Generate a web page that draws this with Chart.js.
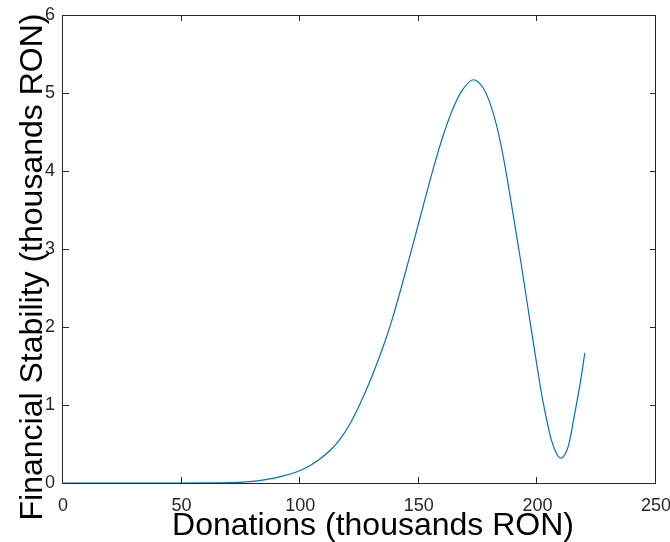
<!DOCTYPE html>
<html>
<head>
<meta charset="utf-8">
<script src="https://cdn.jsdelivr.net/npm/chart.js@4/dist/chart.umd.min.js"></script>
<style>
  html, body { margin: 0; padding: 0; background: #fff; }
  #wrap { width: 670px; height: 542px; position: relative; }
</style>
</head>
<body>
<div id="wrap"><canvas id="chart"></canvas></div>
<script>
(function() {
  'use strict';

  // ── Curve (thousands RON) ──
  var donations = [0, 50, 60, 70, 80, 90, 100, 104, 108, 113, 117, 121, 125, 130, 135, 139, 144, 148, 152, 156, 160, 164, 168, 173, 177, 180, 183, 186, 190, 193, 197, 200, 202, 205, 206, 208, 209, 210, 211, 212, 213, 214, 215, 218, 220];
  var stability = [0, 0, 0.001, 0.005, 0.022, 0.07, 0.16, 0.22, 0.30, 0.43, 0.57, 0.76, 1.00, 1.35, 1.75, 2.12, 2.66, 3.11, 3.57, 4.02, 4.43, 4.77, 5.02, 5.17, 5.07, 4.87, 4.56, 4.12, 3.40, 2.84, 2.05, 1.47, 1.10, 0.66, 0.54, 0.38, 0.335, 0.32, 0.338, 0.39, 0.47, 0.60, 0.77, 1.27, 1.67];

  var xTicks = [0, 50, 100, 150, 200, 250];
  var yTicks = [0, 1, 2, 3, 4, 5, 6];

  var xTitle = 'Donations (thousands RON)';
  var yTitle = 'Financial Stability (thousands RON)';

  var FONT = "'Liberation Sans', Arial, sans-serif";
  var AXIS = '#262626';

  var points = donations.map(function(d, i) { return { x: d, y: stability[i] }; });

  // no extra room for labels that stick out past the plot box
  function noOverflow(s) {
    s.paddingLeft = 0; s.paddingRight = 0;
    s.paddingTop = 0; s.paddingBottom = 0;
  }

  // ── MATLAB-style box, inward ticks and axis titles ──
  var matlabAxes = {
    id: 'matlabAxes',
    afterDraw: function(chart) {
      var ctx = chart.ctx;
      var a = chart.chartArea;
      var xs = chart.scales.x, ys = chart.scales.y;
      var tl = 6;
      ctx.save();
      ctx.strokeStyle = AXIS;
      ctx.lineWidth = 1;
      ctx.beginPath();
      ctx.rect(a.left - 0.5, a.top + 0.5, a.right - a.left, a.bottom - a.top);
      xTicks.forEach(function(v) {
        var px = Math.round(xs.getPixelForValue(v)) - 0.5;
        ctx.moveTo(px, a.bottom); ctx.lineTo(px, a.bottom - tl);
        ctx.moveTo(px, a.top); ctx.lineTo(px, a.top + tl);
      });
      yTicks.forEach(function(v) {
        var py = Math.round(ys.getPixelForValue(v)) + 0.5;
        ctx.moveTo(a.left, py); ctx.lineTo(a.left + tl, py);
        ctx.moveTo(a.right, py); ctx.lineTo(a.right - tl, py);
      });
      ctx.stroke();

      ctx.fillStyle = '#000';
      ctx.font = '32px ' + FONT;
      ctx.textAlign = 'center';
      ctx.textBaseline = 'alphabetic';
      ctx.fillText(xTitle, 373, 535);

      ctx.translate(42, 267);
      ctx.rotate(-Math.PI / 2);
      ctx.fillText(yTitle, 0, 0);
      ctx.restore();
    }
  };

  new Chart(document.getElementById('chart'), {
    type: 'line',
    data: {
      datasets: [{
        data: points,
        borderColor: '#0072BD',
        borderWidth: 1.2,
        pointRadius: 0,
        fill: false,
        cubicInterpolationMode: 'monotone'
      }]
    },
    options: {
      responsive: true,
      maintainAspectRatio: false,
      animation: false,
      layout: { autoPadding: false, padding: { top: 15, right: 14, left: 0, bottom: 0 } },
      plugins: {
        legend: { display: false },
        tooltip: { enabled: false }
      },
      scales: {
        x: {
          type: 'linear',
          min: 0,
          max: 250,
          afterBuildTicks: function(s) { s.ticks = xTicks.map(function(v) { return { value: v }; }); },
          afterFit: function(s) { s.height = 59; noOverflow(s); },
          grid: { display: false, drawTicks: false },
          border: { display: false },
          ticks: { color: AXIS, padding: 12, font: { size: 18, family: FONT }, maxRotation: 0 }
        },
        y: {
          min: 0,
          max: 6,
          afterBuildTicks: function(s) { s.ticks = yTicks.map(function(v) { return { value: v }; }); },
          afterFit: function(s) { s.width = 63; noOverflow(s); },
          grid: { display: false, drawTicks: false },
          border: { display: false },
          ticks: { color: AXIS, padding: 8, font: { size: 18, family: FONT } }
        }
      }
    },
    plugins: [matlabAxes]
  });
})();
</script>
</body>
</html>
